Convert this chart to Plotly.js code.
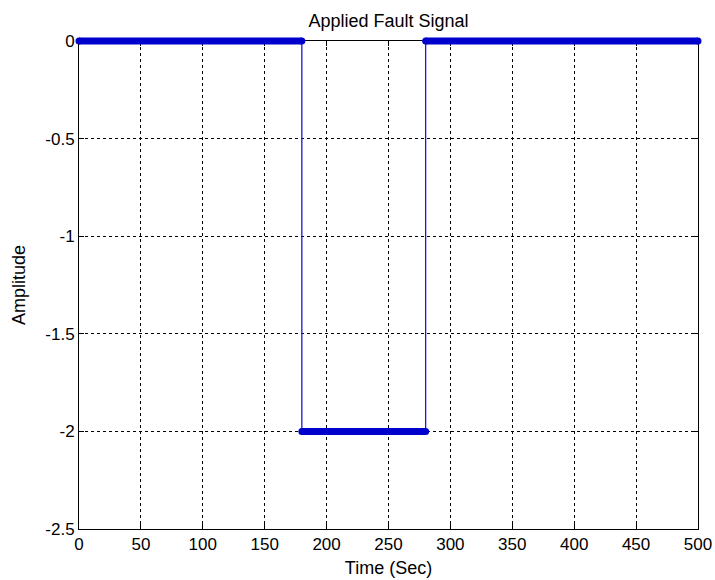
<!DOCTYPE html>
<html>
<head>
<meta charset="utf-8">
<script src="https://cdn.plot.ly/plotly-3.0.1.min.js"></script>
<style>html,body{margin:0;padding:0;background:#fff;}#chart{width:715px;height:580px;}</style>
</head>
<body>
<div id="chart"></div>
<script>
// Step fault signal: time (s) and amplitude
var time = [0, 180, 180, 280, 280, 500];
var amplitude = [0, 0, -2, -2, 0, 0];
// Flat (sampled) segments drawn heavy; null breaks between them
var flatTime = [0, 180, null, 180, 280, null, 280, 500];
var flatAmp = [0, 0, null, -2, -2, null, 0, 0];
var xTicks = [0, 50, 100, 150, 200, 250, 300, 350, 400, 450, 500];
var yTicks = [0, -0.5, -1, -1.5, -2, -2.5];
var xRange = [0, 500];
var yRange = [-2.5, 0];

var W = 715, H = 580;
var L = 79, R = 17, T = 41, B = 51;   // plot-area edges
var P = 8;                             // extra room so heavy line is not clipped
var pw = W - L - R, ph = H - T - B;
var tw = pw + 2 * P, th = ph + 2 * P;
var dx = P * (xRange[1] - xRange[0]) / pw;
var dy = P * (yRange[1] - yRange[0]) / ph;

var fam = 'Liberation Sans, Arial, sans-serif';
var tickFont = {family: fam, size: 17, color: '#000'};
var labFont = {family: fam, size: 18, color: '#000'};

var traces = [
  {x: time, y: amplitude, mode: 'lines', line: {color: '#1a1ad6', width: 1.3}, hoverinfo: 'skip', showlegend: false},
  {x: flatTime, y: flatAmp, xaxis: 'x2', yaxis: 'y2', mode: 'lines+markers',
   line: {color: '#0000cc', width: 7}, marker: {color: '#0000cc', size: 7},
   cliponaxis: false, connectgaps: false, hoverinfo: 'skip', showlegend: false}
];

var axisCommon = {
  showline: true, linecolor: '#000', linewidth: 1, mirror: 'ticks',
  ticks: 'inside', ticklen: 5, tickcolor: '#000', tickwidth: 1,
  showgrid: true, gridcolor: '#000', griddash: 'dot', gridwidth: 1,
  zeroline: false, tickfont: tickFont
};

var layout = {
  width: W, height: H,
  margin: {l: L - P, r: R - P, t: T - P, b: B - P, pad: 0},
  paper_bgcolor: '#fff', plot_bgcolor: 'rgba(0,0,0,0)',
  font: tickFont,
  title: {text: 'Applied Fault Signal', font: labFont, x: 0.5, xref: 'paper', y: 1 - 21 / H, yanchor: 'middle'},
  xaxis: Object.assign({}, axisCommon, {range: xRange, domain: [P / tw, 1 - P / tw], anchor: 'y',
    tickvals: xTicks, ticktext: xTicks.map(String),
    title: {text: 'Time (Sec)', font: labFont, standoff: 7}}),
  yaxis: Object.assign({}, axisCommon, {range: yRange, domain: [P / th, 1 - P / th], anchor: 'x',
    tickvals: yTicks, ticktext: yTicks.map(String),
    title: {text: 'Amplitude', font: labFont, standoff: 15}}),
  xaxis2: {range: [xRange[0] - dx, xRange[1] + dx], domain: [0, 1], anchor: 'y2', visible: false, fixedrange: true},
  yaxis2: {range: [yRange[0] - dy, yRange[1] + dy], domain: [0, 1], anchor: 'x2', visible: false, fixedrange: true}
};

Plotly.newPlot('chart', traces, layout, {displayModeBar: false, staticPlot: true});
</script>
</body>
</html>
